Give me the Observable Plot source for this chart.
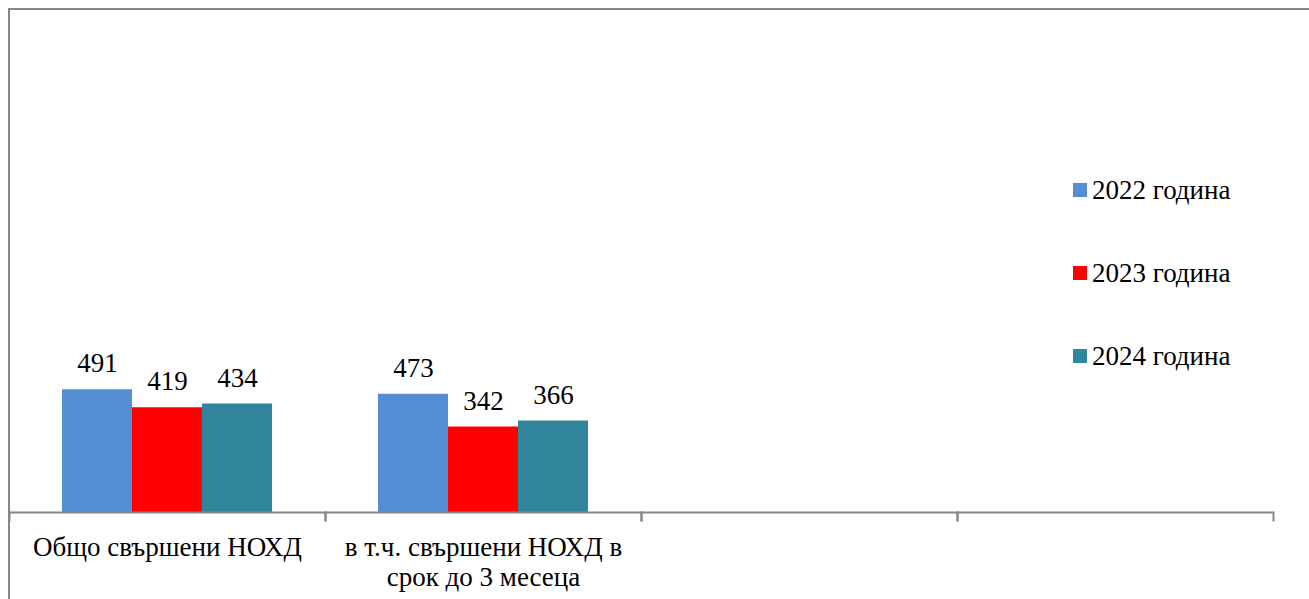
<!DOCTYPE html>
<html>
<head>
<meta charset="utf-8">
<script src="https://cdn.jsdelivr.net/npm/d3@7"></script>
<script src="https://cdn.jsdelivr.net/npm/@observablehq/plot@0.6"></script>
<style>
  html, body { margin: 0; padding: 0; background: #fff; overflow: hidden; }
  #wrap { position: relative; width: 1309px; height: 599px; overflow: hidden; }
  #border { position: absolute; left: 8px; top: 8px; right: -20px; bottom: -20px;
            border-top: 2px solid #878787; border-left: 2px solid #878787; pointer-events: none; }
  #legend { position: absolute; left: 1073px; top: 176px; font-family: 'Liberation Serif', 'Times New Roman', serif; font-size: 27px; color: #000; }
  .item { display: flex; align-items: center; height: 28px; margin-bottom: 55px; white-space: nowrap; }
  .sw { width: 14px; height: 14px; margin-right: 5px; flex: none; }
</style>
</head>
<body>
<div id="wrap">
  <div id="chart"></div>
  <div id="border"></div>
  <div id="legend"></div>
</div>
<script>
const categories = ["Общо свършени НОХД", "в т.ч. свършени НОХД в\nсрок до 3 месеца", " ", "  "];
const series = ["2022 година", "2023 година", "2024 година"];
const values2022 = [491, 473];
const values2023 = [419, 342];
const values2024 = [434, 366];
const colors = ["#558ED5", "#FF0000", "#31859C"];

const seriesValues = [values2022, values2023, values2024];
const data = [];
categories.forEach((c, ci) => {
  series.forEach((s, si) => {
    const v = seriesValues[si][ci];
    if (v !== undefined) data.push({category: c, series: s, value: v});
  });
});

const axisGray = "#878787";
const font = "'Liberation Serif', 'Times New Roman', serif";

const chart = Plot.plot({
  width: 1309,
  height: 599,
  marginLeft: 9,
  marginRight: 36,
  marginTop: 12,
  marginBottom: 87,
  style: {fontFamily: font, fontSize: "27px", color: "#000", background: "transparent"},
  fx: {domain: categories, padding: 0, label: null},
  x: {domain: series, paddingInner: 0, paddingOuter: 0.75, axis: null},
  y: {domain: [0, 2000], axis: null},
  color: {domain: series, range: colors},
  marks: [
    Plot.barY(data, {fx: "category", x: "series", y: "value", fill: "series"}),
    Plot.text(data, {fx: "category", x: "series", y: "value", text: d => String(d.value),
      dy: -26, lineAnchor: "middle", fontSize: 27, fill: "#000"}),
    Plot.ruleY(categories, {fx: d => d, y: () => 0, stroke: axisGray, strokeWidth: 2}),
    Plot.frame({anchor: "left", insetTop: 500, insetBottom: -8, stroke: axisGray, strokeWidth: 2}),
    Plot.frame({anchor: "right", insetTop: 500, insetBottom: -8, stroke: axisGray, strokeWidth: 2}),
    Plot.axisFx({anchor: "bottom", tickSize: 0, tickPadding: 22, label: null, fontSize: 27, lineHeight: 1.12, fill: "#000"})
  ]
});
document.getElementById("chart").appendChild(chart);

const legend = document.getElementById("legend");
series.forEach((s, i) => {
  const item = document.createElement("div");
  item.className = "item";
  const sw = document.createElement("span");
  sw.className = "sw";
  sw.style.background = colors[i];
  const label = document.createElement("span");
  label.textContent = s;
  item.appendChild(sw);
  item.appendChild(label);
  legend.appendChild(item);
});
</script>
</body>
</html>
